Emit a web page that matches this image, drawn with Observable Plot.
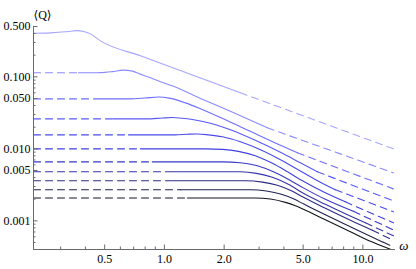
<!DOCTYPE html>
<html><head><meta charset="utf-8">
<script src="https://cdn.jsdelivr.net/npm/d3@7"></script>
<script src="https://cdn.jsdelivr.net/npm/@observablehq/plot@0.6"></script>
<style>body{margin:0;background:#fff} svg{display:block} svg text{font-family:"Liberation Serif","DejaVu Serif",serif}</style>
</head><body><div id="chart"></div>
<script>
// ω (x) and ⟨Q⟩ (y) values, solid part of each curve
const c1w = [0.219,0.267,0.317,0.344,0.365,0.391,0.424,0.476,0.757,1.352,2.415];
const c1q = [0.402,0.408,0.422,0.4325,0.438,0.427,0.395,0.316,0.196,0.1084,0.060];
const c2w = [0.369,0.476,0.547,0.621,0.690,0.757,0.850,0.954,1.110,1.518,2.15,3.30];
const c2q = [0.1137,0.1143,0.118,0.1238,0.120,0.109,0.0968,0.0857,0.0738,0.0502,0.0332,0.0196];
const c3w = [0.439,0.674,0.802,0.933,1.072,1.276,1.518,2.03,2.71,3.62,4.68];
const c3q = [0.0494,0.0494,0.0508,0.0524,0.0502,0.0435,0.0360,0.0253,0.0175,0.0121,0.0088];
const c4w = [0.553,0.850,0.977,1.097,1.232,1.384,1.706,2.15,2.87,3.84,4.84,5.90];
const c4q = [0.0261,0.0261,0.0268,0.0272,0.0266,0.0255,0.0226,0.01836,0.01312,0.00894,0.00639,0.00479];
const c5w = [0.659,1.136,1.306,1.466,1.666,1.96,2.415,3.05,3.93,5.015,6.11,7.27];
const c5q = [0.01564,0.01564,0.01595,0.0161,0.01564,0.01468,0.01251,0.00969,0.00681,0.00464,0.003425,0.00270];
const c6w = [0.757,1.609,1.96,2.36,2.87,3.50,4.21,5.015,6.47,8.16];
const c6q = [0.0100,0.0100,0.00984,0.00923,0.00800,0.00629,0.00472,0.003537,0.002448,0.001836];
const c7w = [0.870,1.96,2.415,2.94,3.54,4.21,5.015,6.47,8.96];
const c7q = [0.00659,0.00659,0.00640,0.00581,0.00480,0.00377,0.00287,0.00199,0.001355];
const c8w = [1.012,2.415,2.908,3.50,4.21,5.015,6.47,8.16,10.3];
const c8q = [0.00480,0.00480,0.004568,0.004019,0.003212,0.002409,0.001695,0.001251,0.000938];
const c9w = [1.110,2.56,3.117,3.71,4.364,5.015,6.47,8.65,11.16];
const c9q = [0.00360,0.00360,0.003447,0.003113,0.002610,0.002120,0.001491,0.001016,0.000738];
const c10w = [1.204,2.71,3.265,3.886,4.467,5.015,6.47,8.65,10.91,12.69];
const c10q = [0.00270,0.00270,0.002594,0.002334,0.002021,0.001722,0.001212,0.000825,0.000609,0.000503];
const c11w = [1.306,2.87,3.42,4.07,4.57,5.015,6.47,8.65,10.91,13.76];
const c11q = [0.00208,0.00208,0.002008,0.001806,0.001616,0.001444,0.001032,0.000704,0.000519,0.000402];
// dashed extrapolation end (ω = 14.25) for each curve
const tailW = 14.25;
const tailQ = [0.0100,0.00464,0.00278,0.0019,0.001334,0.000938,0.000750,0.000619,0.000536,0.000435,null];
const colors = ["#a6a6ff","#8a8aff","#6e6eff","#5858f6","#4a4aec","#4040de","#3838c8","#3434a8","#2c2c84","#222252","#141420"];

// axes
const X_MIN = 0.219, X_MAX = 14.6, Y_MIN = 0.0004, Y_MAX = 0.5;
const xMajor = [0.5,1,2,5,10];
const xLabels = ["0.5","1.0","2.0","5.0","10.0"];
const xMinor = [0.3,0.4,0.6,0.7,0.8,0.9,3,4,6,7,8,9];
const yMajor = [0.001,0.005,0.01,0.05,0.1,0.5];
const yLabels = ["0.001","0.005","0.010","0.050","0.100","0.500"];
const yMinor = [0.0005,0.0006,0.0007,0.0008,0.0009,0.002,0.003,0.004,0.006,0.007,0.008,0.009,0.02,0.03,0.04,0.06,0.07,0.08,0.09,0.2,0.3,0.4];

const W = 416, H = 269, ML = 33, MR = 21, MT = 26, MB = 20;
const FW = W - ML - MR, FH = H - MT - MB;
const FONT = "Liberation Serif";

const curvesW = [c1w,c2w,c3w,c4w,c5w,c6w,c7w,c8w,c9w,c10w,c11w];
const curvesQ = [c1q,c2q,c3q,c4q,c5q,c6q,c7q,c8q,c9q,c10q,c11q];

const lineMarks = [];
const axisCol = "#6a6a6a";
const dash = "7,5";
curvesW.forEach((ws, i) => {
  const qs = curvesQ[i];
  const solid = ws.map((w, j) => ({w, q: qs[j]}));
  if (ws[0] > X_MIN + 1e-6) {
    lineMarks.push(Plot.line([{w: X_MIN, q: qs[0]}, {w: ws[0], q: qs[0]}],
      {x: "w", y: "q", stroke: colors[i], strokeWidth: 1.1, strokeDasharray: dash}));
  }
  lineMarks.push(Plot.line(solid, {x: "w", y: "q", stroke: colors[i], strokeWidth: 1.1, curve: "monotone-x"}));
  if (tailQ[i] != null) {
    const last = solid[solid.length - 1];
    lineMarks.push(Plot.line([last, {w: tailW, q: tailQ[i]}],
      {x: "w", y: "q", stroke: colors[i], strokeWidth: 1.1, strokeDasharray: dash}));
  }
});

const chart = Plot.plot({
  width: W, height: H,
  marginLeft: ML, marginRight: MR, marginTop: MT, marginBottom: MB,
  style: {fontFamily: FONT, fontSize: "12px", background: "#fff"},
  x: {type: "log", domain: [X_MIN, X_MAX], axis: null},
  y: {type: "log", domain: [Y_MIN, Y_MAX], axis: null},
  marks: [
    ...lineMarks,
    Plot.ruleY([Y_MIN], {stroke: axisCol}),
    Plot.ruleX([X_MIN], {stroke: axisCol}),
    Plot.ruleX(xMajor, {x: d => d, stroke: axisCol, insetTop: FH - 4.5}),
    Plot.ruleX(xMinor, {x: d => d, stroke: axisCol, insetTop: FH - 2.5}),
    Plot.ruleY(yMajor, {y: d => d, stroke: axisCol, insetRight: FW - 4.5}),
    Plot.ruleY(yMinor, {y: d => d, stroke: axisCol, insetRight: FW - 2.5}),
    Plot.text(xMajor, {x: d => d, frameAnchor: "bottom", dy: 13, text: (d, i) => xLabels[i], fill: "#000", fontSize: 12, fontFamily: FONT}),
    Plot.text(yMajor, {y: d => d, frameAnchor: "left", dx: -3, textAnchor: "end", text: (d, i) => yLabels[i], fill: "#000", fontSize: 12, fontFamily: FONT}),
    Plot.text(["⟨Q⟩"], {frameAnchor: "top-left", dy: -16, fill: "#000", fontSize: 12, fontFamily: FONT}),
    Plot.text(["ω"], {frameAnchor: "bottom-right", dx: 13, dy: 0, fill: "#000", fontSize: 13, fontStyle: "italic", fontFamily: FONT})
  ]
});
document.getElementById("chart").appendChild(chart);
</script>
</body></html>
